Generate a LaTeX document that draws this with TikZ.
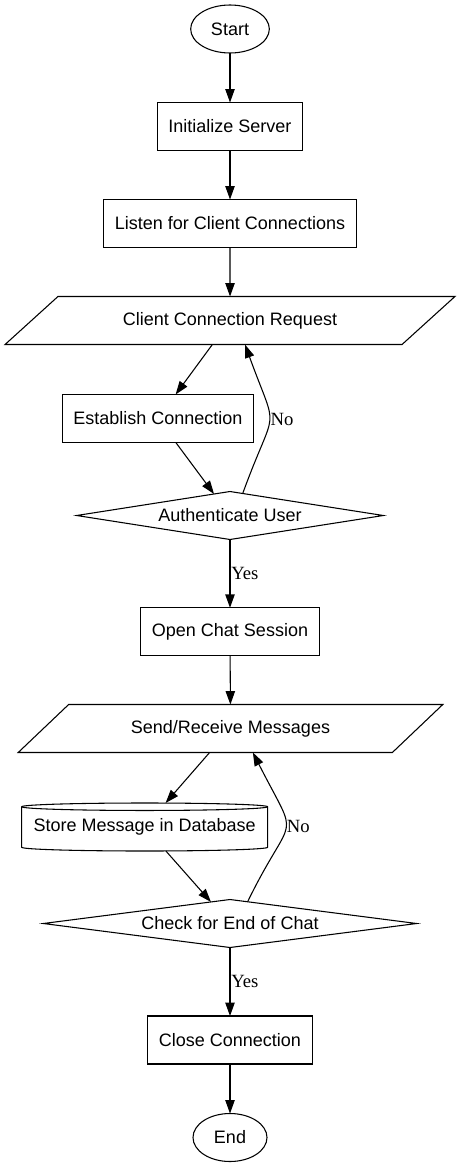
\documentclass[tikz,border=0pt]{standalone}
\usepackage{fontspec}
\setmainfont{Liberation Sans}
\newfontfamily\labelfont{Liberation Serif}
\usetikzlibrary{arrows.meta, shapes.geometric}

\begin{document}
\begin{tikzpicture}[x=0.75pt, y=0.75pt, >={Triangle[length=10pt,width=7pt]},
    line width=0.8pt,
    every node/.style={font=\fontsize{13.5}{16}\selectfont, outer sep=0pt},
    terminal/.style={draw, ellipse, inner sep=0pt, minimum height=36pt},
    process/.style={draw, rectangle, inner sep=2pt, minimum height=36pt},
    io/.style={draw, trapezium, trapezium stretches=true, inner sep=0pt, minimum height=36pt},
    decision/.style={draw, diamond, inner sep=0pt, minimum height=36pt},
    database/.style={rectangle, inner sep=0pt, minimum height=36pt},
    answer/.style={font=\labelfont\fontsize{14}{16}\selectfont, inner sep=1pt}]

% --- DEFINITIONS ---
\def\capRadius{2.8pt}   % height of the cylinder cap

\useasboundingbox (0,0) rectangle (460,-1167);

% --- 1. SERVER START ---
\node[terminal, minimum width=59pt] (start) at (230,-29) {Start};
\node[process, minimum width=109pt] (init) at (230,-126.5) {Initialize Server};
\node[process, minimum width=190pt] (listen) at (230,-223.5) {Listen for Client Connections};

% --- 2. CLIENT LOGIN ---
\node[io, minimum width=337.5pt, trapezium left angle=27, trapezium right angle=153]
    (request) at (230,-320.5) {Client Connection Request};
\node[process, minimum width=143pt] (establish) at (158,-418.5) {Establish Connection};
\node[decision, minimum width=230pt, shape aspect=6.4] (auth) at (230,-515.5) {Authenticate User};

% --- 3. CHAT LOOP ---
\node[process, minimum width=134.5pt] (session) at (230,-631.8) {Open Chat Session};
\node[io, minimum width=319pt, trapezium left angle=28.4, trapezium right angle=151.6]
    (messages) at (230.5,-728.5) {Send/Receive Messages};
\node[database, minimum width=184.5pt] (store) at (144.7,-827) {Store Message in Database};
\node[decision, minimum width=280pt, shape aspect=7.8] (check) at (230,-923.5) {Check for End of Chat};

% --- 4. SERVER END ---
\node[process, minimum width=124pt] (close) at (230,-1040) {Close Connection};
\node[terminal, minimum width=55.5pt] (end) at (230,-1137.5) {End};

% Cylinder outline of the database node
\draw ([yshift=-\capRadius]store.north west) -- ([yshift=\capRadius]store.south west)
    arc[start angle=180, end angle=360, x radius=92.25pt, y radius=\capRadius]
    -- ([yshift=-\capRadius]store.north east)
    arc[start angle=0, end angle=180, x radius=92.25pt, y radius=\capRadius];
\draw ([yshift=-\capRadius]store.north west)
    arc[start angle=180, end angle=360, x radius=92.25pt, y radius=\capRadius];

% --- 5. CONNECTORS ---
\draw[->] (start) -- (init);
\draw[->] (init) -- (listen);
\draw[->] (listen) -- (request);
\draw[->] (request) -- (establish);
\draw[->] (establish) -- (auth);
\draw[->] (auth.60) to[out=70, in=-70, looseness=1.7] node[answer, right] {No} (request.-58);
\draw[->] (auth) -- node[answer, right] {Yes} (session);
\draw[->] (session) -- (messages);
\draw[->] (messages) -- (store);
\draw[->] (store) -- (check);
\draw[->] (check.51) to[out=64, in=-63, looseness=1.8] node[answer, right] {No} (messages.-47);
\draw[->] (check) -- node[answer, right] {Yes} (close);
\draw[->] (close) -- (end);

\end{tikzpicture}
\end{document}
